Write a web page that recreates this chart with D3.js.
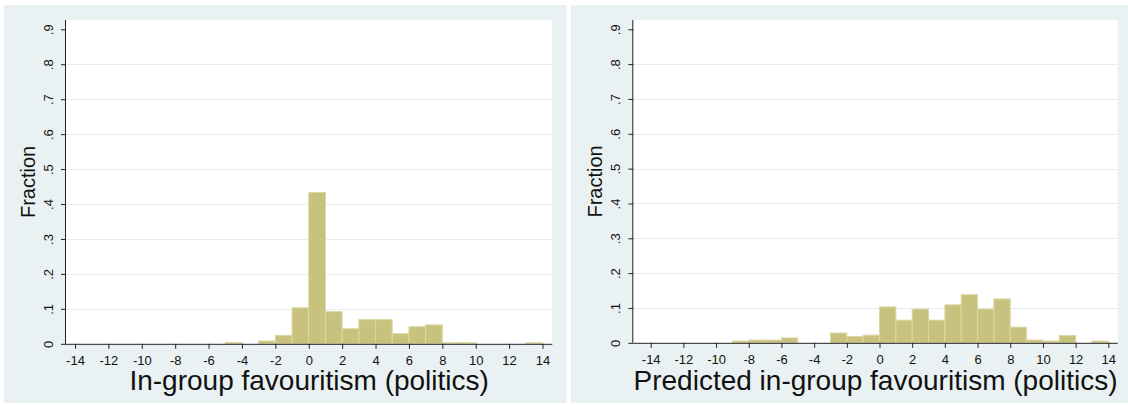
<!DOCTYPE html>
<html><head><meta charset="utf-8">
<script src="https://cdnjs.cloudflare.com/ajax/libs/d3/7.8.5/d3.min.js"></script>
<style>body{margin:0;background:#fff;}svg{display:block;font-family:"Liberation Sans",Arial,sans-serif;}</style>
</head><body><svg id="c" width="1128" height="405"></svg>
<script>
// Data (bin start, fraction), bin width = 1
const leftBinStarts = [-5,-3,-2,-1,0,1,2,3,4,5,6,7,8,9,13];
const leftFractions = [0.004,0.008,0.024,0.103,0.433,0.092,0.043,0.069,0.069,0.029,0.049,0.054,0.003,0.003,0.003];
const rightBinStarts = [-9,-8,-7,-6,-3,-2,-1,0,1,2,3,4,5,6,7,8,9,10,11,13];
const rightFractions = [0.005,0.008,0.008,0.014,0.028,0.018,0.022,0.103,0.065,0.097,0.065,0.109,0.138,0.097,0.126,0.045,0.008,0.005,0.021,0.005];
const xTicks = [-14,-12,-10,-8,-6,-4,-2,0,2,4,6,8,10,12,14];
const yTicks = [0,0.1,0.2,0.3,0.4,0.5,0.6,0.7,0.8,0.9];
const yTickLabels = ["0",".1",".2",".3",".4",".5",".6",".7",".8",".9"];
const yTitle = "Fraction";
const leftTitle = "In-group favouritism (politics)";
const rightTitle = "Predicted in-group favouritism (politics)";

const svg = d3.select("#c");
const bgCol = "#e9f1f3", barFill = "#c9c27f", barStroke = "#dcd7a2", gridCol = "#e4eef0";

function panel(cfg){
  const g = svg.append("g");
  g.append("rect").attr("x",cfg.bx).attr("y",cfg.by).attr("width",cfg.bw).attr("height",cfg.bh).attr("fill",bgCol);
  g.append("rect").attr("x",cfg.px0).attr("y",cfg.py0).attr("width",cfg.px1-cfg.px0).attr("height",cfg.py1-cfg.py0).attr("fill","#fff");
  const x = d3.scaleLinear().domain([-14,14]).range(cfg.xr);
  const y = d3.scaleLinear().domain([0,0.9]).range(cfg.yr);
  // grid
  g.selectAll("line.grid").data(yTicks.filter(v=>v>0 && v<0.85)).join("line")
    .attr("x1",cfg.px0).attr("x2",cfg.px1).attr("y1",d=>Math.round(y(d))+0.5).attr("y2",d=>Math.round(y(d))+0.5)
    .attr("stroke",gridCol).attr("stroke-width",1.2);
  // bars
  g.selectAll("rect.bar").data(cfg.starts.map((s,i)=>({s,v:cfg.vals[i]}))).join("rect")
    .attr("x",d=>x(d.s)).attr("width",d=>x(d.s+1)-x(d.s))
    .attr("y",d=>y(d.v)).attr("height",d=>y(0)-y(d.v))
    .attr("fill",barFill).attr("stroke",barStroke).attr("stroke-width",1);
  // x axis
  const xa = d3.axisBottom(x).tickValues(xTicks).tickSize(5).tickFormat(d=>d<0?"-"+Math.abs(d):String(d));
  const xg = g.append("g").attr("transform",`translate(0,${y(0)})`).call(xa);
  xg.select(".domain").attr("d",`M${cfg.px0},0.5H${cfg.px1}`).attr("stroke","#222");
  xg.selectAll(".tick line").attr("stroke","#222");
  xg.selectAll(".tick text").attr("font-size",13).attr("fill","#111").attr("dy",null).attr("y",21);
  // y axis
  const ya = d3.axisLeft(y).tickValues(yTicks).tickSize(5).tickFormat((d,i)=>yTickLabels[i]);
  const yg = g.append("g").attr("transform",`translate(${cfg.px0},0)`).call(ya);
  yg.select(".domain").attr("d",`M-0.5,${cfg.py0}V${y(0)}`).attr("stroke","#222");
  yg.selectAll(".tick line").attr("stroke","#222");
  yg.selectAll(".tick text").attr("font-size",13).attr("fill","#111")
    .attr("x",null).attr("dy",null).attr("text-anchor","middle")
    .attr("transform","translate(-13,0) rotate(-90)").attr("y",0);
  // titles
  const tx = cfg.px0-31, ty = (cfg.py0+y(0))/2;
  g.append("text").attr("x",tx).attr("y",ty)
    .attr("transform",`rotate(-90,${tx},${ty})`)
    .attr("text-anchor","middle").attr("font-size",20).attr("fill","#111").text(yTitle);
  g.append("text").attr("x",(cfg.px0+cfg.px1)/2).attr("y",390)
    .attr("text-anchor","middle").attr("font-size",28).attr("fill","#111").text(cfg.title);
}

panel({bx:4,by:5,bw:562.7,bh:398,px0:66,px1:552.3,py0:20,py1:344,xr:[75,542.5],yr:[343.8,29.3],
  starts:leftBinStarts,vals:leftFractions,title:leftTitle});
panel({bx:571,by:5,bw:557,bh:398,px0:633.3,px1:1117.7,py0:20,py1:343,xr:[650.7,1108.3],yr:[342.8,29.3],
  starts:rightBinStarts,vals:rightFractions,title:rightTitle});
</script></body></html>
